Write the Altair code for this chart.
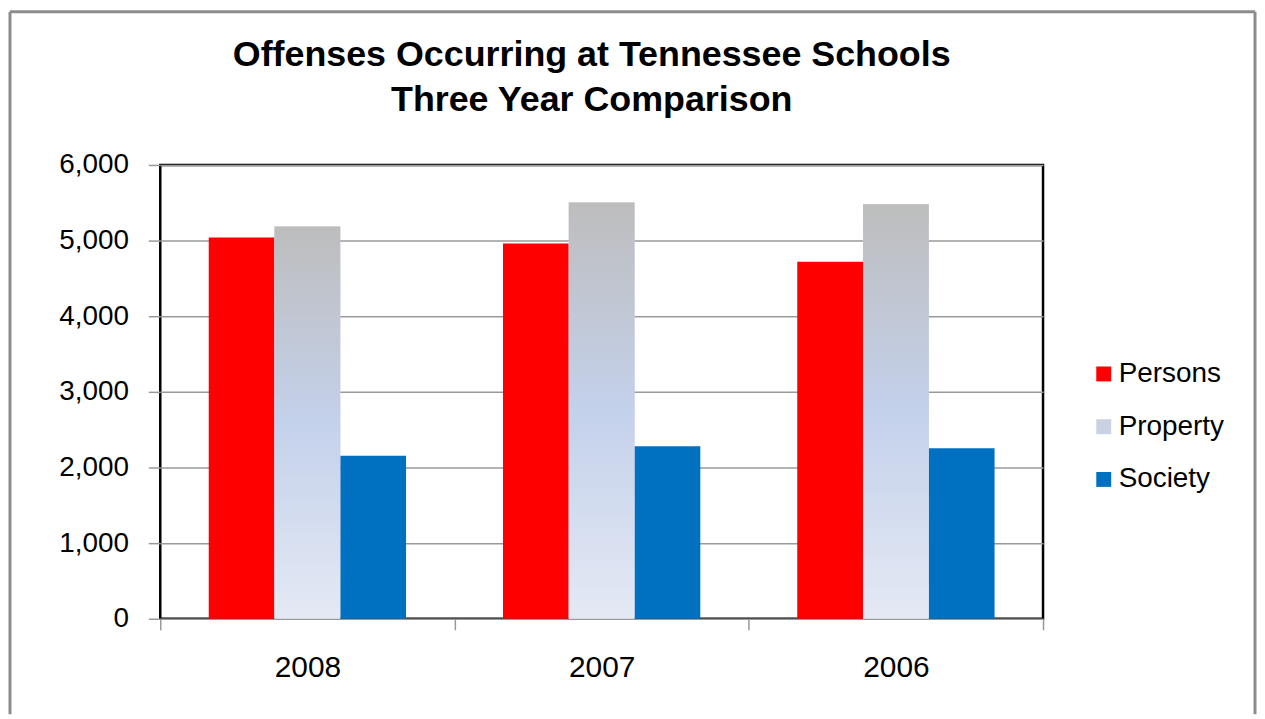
import altair as alt
import pandas as pd

years = ["2008", "2007", "2006"]
series = ["Persons", "Property", "Society"]
persons = [5040, 4960, 4720]
property_vals = [5185, 5505, 5480]
society = [2155, 2280, 2255]
y_ticks = [0, 1000, 2000, 3000, 4000, 5000, 6000]
colors = ["#FF0000", "#C9D1E3", "#0070C0"]

rows = []
for i, yr in enumerate(years):
    rows.append({"Year": yr, "Type": "Persons", "Count": persons[i]})
    rows.append({"Year": yr, "Type": "Property", "Count": property_vals[i]})
    rows.append({"Year": yr, "Type": "Society", "Count": society[i]})
df = pd.DataFrame(rows)

FONT = "Liberation Sans"

x_enc = alt.X(
    "Year:N", sort=years,
    scale=alt.Scale(paddingInner=0, paddingOuter=0),
    axis=alt.Axis(title=None, labelAngle=0, tickBand="extent", ticks=True, tickSize=11,
                  tickColor="#999999", tickWidth=1.5, domain=False, grid=False,
                  labelFontSize=30, labelPadding=23, labelColor="black", labelFont=FONT),
)
xo_enc = alt.XOffset("Type:N", sort=series,
                     scale=alt.Scale(domain=series, paddingInner=0, paddingOuter=0.737))
y_enc = alt.Y(
    "Count:Q", scale=alt.Scale(domain=[0, 6000], nice=False),
    axis=alt.Axis(title=None, values=y_ticks, format=",.0f", tickSize=12, tickColor="#999999",
                  tickWidth=1.5, domain=False, grid=True, gridColor="#9a9a9a", gridWidth=1.5,
                  labelFontSize=28, labelPadding=20, labelColor="black", labelFont=FONT),
)

base = alt.Chart(df).mark_bar().encode(
    x=x_enc, xOffset=xo_enc, y=y_enc,
    color=alt.Color("Type:N", sort=series,
                    scale=alt.Scale(domain=series, range=colors),
                    legend=alt.Legend(title=None, orient="none", legendX=934, legendY=196,
                                      symbolType="square", symbolSize=225, symbolStrokeWidth=0,
                                      labelFontSize=28, labelFont=FONT, labelColor="black",
                                      rowPadding=25, labelOffset=1)),
)

grad = alt.Chart(df).transform_filter(alt.datum.Type == "Property").mark_bar(
    fill=alt.Gradient(
        gradient="linear", x1=0, x2=0, y1=0, y2=1,
        stops=[alt.GradientStop(offset=0, color="#BDBDBD"),
               alt.GradientStop(offset=0.5, color="#C4D1EB"),
               alt.GradientStop(offset=1, color="#E4E9F4")],
    )
).encode(x=x_enc, xOffset=xo_enc, y=y_enc)

frame_df = pd.DataFrame({"k": [0]})
left_rule = alt.Chart(frame_df).mark_rule(color="#8c8c8c", strokeWidth=3).encode(
    x=alt.value(-151), y=alt.value(-154), y2=alt.value(552))
right_rule = alt.Chart(frame_df).mark_rule(color="#8c8c8c", strokeWidth=3).encode(
    x=alt.value(1100), y=alt.value(-154), y2=alt.value(552))
top_rule = alt.Chart(frame_df).mark_rule(color="#8c8c8c", strokeWidth=3).encode(
    x=alt.value(-151), x2=alt.value(1100), y=alt.value(-154))

chart = alt.layer(base, grad, left_rule, right_rule, top_rule).properties(
    width=887, height=456,
    title=alt.TitleParams(
        text=["Offenses Occurring at Tennessee Schools", "Three Year Comparison"],
        font=FONT, fontSize=36, fontWeight="bold", color="black",
        anchor="middle", frame="group", dx=-10, offset=-109, lineHeight=45,
    ),
).configure(
    padding=0, background="white",
    view=alt.ViewConfig(stroke="black", strokeWidth=2.5),
)

chart.save("out.html", embed_options={"renderer": "svg", "actions": False})
